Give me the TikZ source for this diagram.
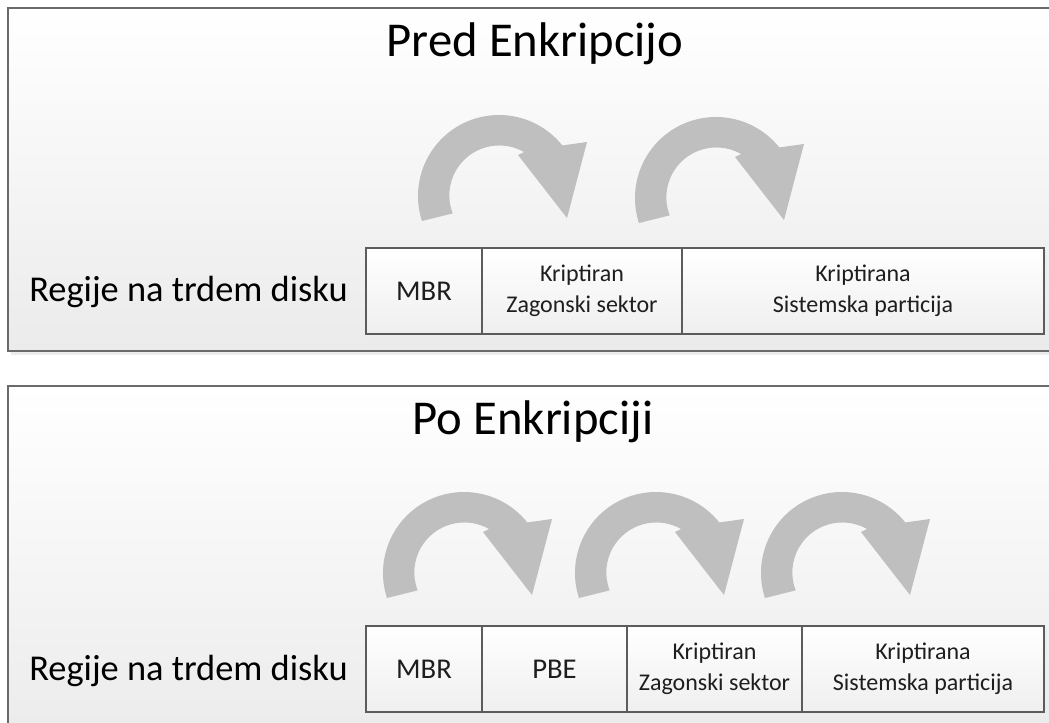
\documentclass[tikz,border=0pt]{standalone}
\usepackage{fontspec}
\setmainfont{Carlito}
\definecolor{panelline}{HTML}{6A6A6A}
\definecolor{panelbot}{HTML}{EBEBEB}
\definecolor{cellline}{HTML}{5C5C5C}
\definecolor{cellbot}{HTML}{EFEFEF}
\definecolor{arrowgrey}{HTML}{BFBFBF}
\definecolor{textc}{HTML}{1E1E1E}
\tikzset{
  bendarrow/.pic={
    \fill[arrowgrey] (81,80) ++(162:81) arc[start angle=162, end angle=321.4, radius=81]
      -- (169,26) -- (149,102) -- (100,39) -- (106,36)
      arc[start angle=299.6, end angle=159, radius=50] -- cycle;
  }
}
\begin{document}
\begin{tikzpicture}[x=0.75pt,y=-0.75pt,
  panel/.style={draw=panelline, line width=1.5pt, top color=white, bottom color=panelbot},
  shadowbox/.style={fill=black!7},
  cell/.style={draw=cellline, line width=1.1pt, top color=white, bottom color=cellbot,
    align=center, text=textc, inner sep=0pt, minimum height=64.5pt,
    font=\fontsize{18}{23.5}\selectfont},
  bigcell/.style={cell, font=\fontsize{21.5}{25}\selectfont},
  titletext/.style={anchor=base, text=black, inner sep=0pt, font=\fontsize{36.5}{42}\selectfont},
  rowlabel/.style={anchor=base west, text=black, inner sep=0pt, font=\fontsize{27.3}{32}\selectfont}
]
\useasboundingbox (0,0) rectangle (1049,723);
\clip (0,0) rectangle (1049,723);
\fill[white] (0,0) rectangle (1049,723);

% ---------- top panel ----------
\fill[shadowbox] (11,11) rectangle (1064,355);
\path[panel] (8,8) rectangle (1062,351);
\node[titletext] (title1) at (535,57) {Pred Enkripcijo};

\pic at (418,116) {bendarrow};
\pic at (635,118) {bendarrow};

\fill[shadowbox] (368,250) rectangle (1047,337);
\node[bigcell, minimum width=87pt] (mbr1) at (424,291) {MBR};
\node[cell, minimum width=150pt] (zs1) at (582,291) {Kriptiran\\Zagonski sektor};
\node[cell, minimum width=271.5pt] (sp1) at (863,291) {Kriptirana\\Sistemska particija};
\node[rowlabel] (lab1) at (29,302) {Regije na trdem disku};

% ---------- bottom panel ----------
\fill[shadowbox] (11,389) rectangle (1064,745);
\path[panel] (8,386) rectangle (1062,742);
\node[titletext] (title2) at (533,434) {Po Enkripciji};

\pic at (383,493) {bendarrow};
\pic at (575,493) {bendarrow};
\pic at (761,493) {bendarrow};

\fill[shadowbox] (368,628) rectangle (1047,715);
\node[bigcell, minimum width=87pt] (mbr2) at (424,669) {MBR};
\node[bigcell, minimum width=108.75pt] (pbe2) at (554.5,669) {PBE};
\node[cell, minimum width=131.25pt] (zs2) at (714.5,669) {Kriptiran\\Zagonski sektor};
\node[cell, minimum width=181.5pt] (sp2) at (923,669) {Kriptirana\\Sistemska particija};
\node[rowlabel] (lab2) at (29,680) {Regije na trdem disku};
\end{tikzpicture}
\end{document}
